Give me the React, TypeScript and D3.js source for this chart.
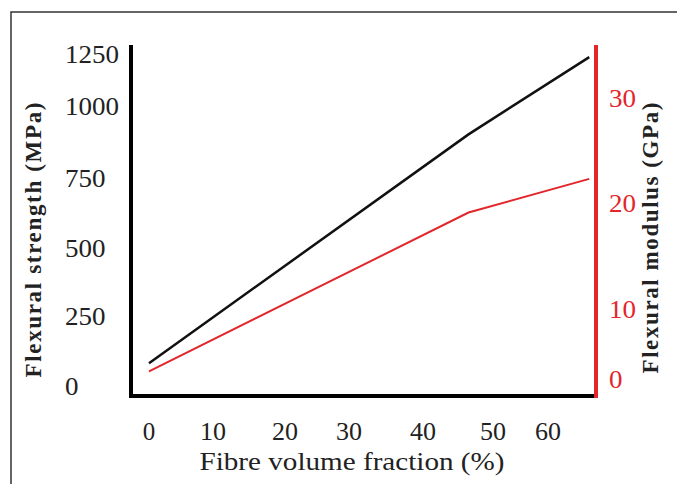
import React from "react";
import * as d3 from "d3";

// values
const fibreFraction = [0, 46.5, 67.5];
const flexuralStrength = [85, 905, 1240];
const flexuralModulus = [1.1, 19.1, 22.3];

const xTicks = [0, 10, 20, 30, 40, 50, 60];
const strengthTicks = [0, 250, 500, 750, 1000, 1250];
const modulusTicks = [0, 10, 20, 30];

const RED = "#e3262b";
const FONT = "'Liberation Serif', 'Times New Roman', serif";

// the source image is a little stretched sideways, so glyphs are widened to fit
const digitW = 13.5;

export default function App() {
    const width = 677;
    const height = 484;
    const left = 131;
    const right = 596;
    const top = 45;
    const bottom = 396;

    // the printed axes are not evenly spaced, so the scales are piecewise
    const x = d3.scaleLinear().domain(xTicks).range([149, 213, 285, 349, 423, 493, 548]);
    const yL = d3.scaleLinear().domain(strengthTicks).range([387, 317, 249, 179, 107, 55]);
    const yR = d3.scaleLinear().domain(modulusTicks).range([379, 309, 203, 98]);

    const pts = fibreFraction.map((f, i) => ({ f, s: flexuralStrength[i], m: flexuralModulus[i] }));
    const strengthLine = d3.line<any>().x(d => x(d.f)).y(d => yL(d.s));
    const modulusLine = d3.line<any>().x(d => x(d.f)).y(d => yR(d.m));

    const tw = (t: number) => String(t).length * digitW;

    return (
        <svg width={width} height={height} style={{ position: "absolute", left: 0, top: 0, background: "#fff" }}
            fontFamily={FONT}>
            <rect x={11} y={12} width={700} height={500} fill="none" stroke="#333" strokeWidth={1.5} />

            <path d={strengthLine(pts) || ""} fill="none" stroke="#111" strokeWidth={2.5} />
            <path d={modulusLine(pts) || ""} fill="none" stroke={RED} strokeWidth={2} />

            {/* axes */}
            <line x1={left} x2={left} y1={top} y2={bottom + 2} stroke="#000" strokeWidth={4} />
            <line x1={left - 2} x2={right} y1={bottom} y2={bottom} stroke="#000" strokeWidth={4} />
            <line x1={right} x2={right} y1={top} y2={bottom + 2} stroke={RED} strokeWidth={4} />

            {strengthTicks.map(t => (
                <text key={"l" + t} x={65} y={yL(t) + 8} fontSize={25} fill="#222"
                    textLength={tw(t)} lengthAdjust="spacingAndGlyphs">{t}</text>
            ))}
            {modulusTicks.map(t => (
                <text key={"r" + t} x={609} y={yR(t) + 9} fontSize={25} fill={RED}
                    textLength={tw(t)} lengthAdjust="spacingAndGlyphs">{t}</text>
            ))}
            {xTicks.map(t => (
                <text key={"x" + t} x={x(t)} y={440} fontSize={25} textAnchor="middle" fill="#222"
                    textLength={tw(t) - 1} lengthAdjust="spacingAndGlyphs">{t}</text>
            ))}

            <text x={352} y={470} fontSize={26} textAnchor="middle" fill="#222"
                textLength={305} lengthAdjust="spacingAndGlyphs">Fibre volume fraction (%)</text>
            <text transform="translate(33,240) rotate(-90)" fontSize={23} fontWeight="bold" textAnchor="middle"
                dominantBaseline="central" textLength={275} lengthAdjust="spacing" fill="#222">
                Flexural strength (MPa)
            </text>
            <text transform="translate(650,238) rotate(-90)" fontSize={23} fontWeight="bold" textAnchor="middle"
                dominantBaseline="central" textLength={271} lengthAdjust="spacing" fill="#222">
                Flexural modulus (GPa)
            </text>
        </svg>
    );
}
